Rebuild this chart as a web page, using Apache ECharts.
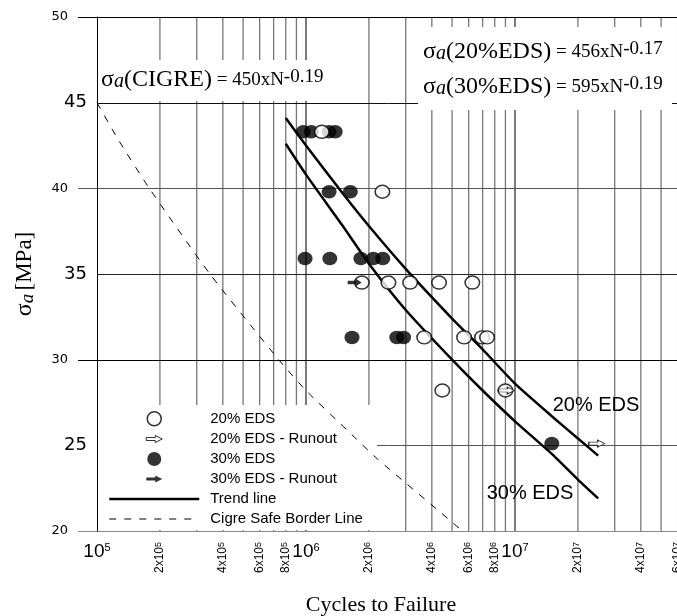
<!DOCTYPE html>
<html><head><meta charset="utf-8">
<script src="https://cdn.jsdelivr.net/npm/echarts@6/dist/echarts.min.js"></script>
<style>html,body{margin:0;padding:0;background:#fff}#c{width:677px;height:616px}</style>
</head><body><div id="c"></div>
<script>
// ---------- data (N cycles, stress amplitude MPa) ----------
const eds20 = [[1.19e6,43.3],[2.32e6,39.8],[1.85e6,34.5],[2.48e6,34.5],[3.15e6,34.5],[4.33e6,34.5],[6.25e6,34.5],
  [3.68e6,31.3],[5.71e6,31.3],[6.95e6,31.3],[7.35e6,31.3],[4.49e6,28.2],[9.0e6,28.2]];
const eds20Runout = [[9.1e6,28.2],[2.46e7,25.1]];
const eds30 = [[9.7e5,43.3],[1.06e6,43.3],[1.29e6,43.3],[1.38e6,43.3],[1.29e6,39.8],[1.63e6,39.8],
  [9.9e5,35.9],[1.30e6,35.9],[1.83e6,35.9],[2.10e6,35.9],[2.33e6,35.9],[1.66e6,31.3],[2.72e6,31.3],[2.93e6,31.3],[1.5e7,25.1]];
const eds30Runout = [[1.71e6,34.5]];
const trend20 = [[8.0e5,44.1],[1.0e6,42.5],[1.5e6,39.7],[2.0e6,37.8],[3.0e6,35.3],[5.0e6,32.4],[7.0e6,30.6],
  [1.0e7,28.6],[1.5e7,26.7],[2.0e7,25.4],[2.5e7,24.4]];
const trend30 = [[8.0e5,42.6],[1.0e6,40.8],[1.5e6,37.8],[2.0e6,35.6],[3.0e6,32.9],[5.0e6,30.0],[7.0e6,28.2],
  [1.0e7,26.4],[1.5e7,24.5],[2.0e7,23.0],[2.5e7,21.9]];
const cigre = [[1e5,45.0],[1.27e5,42.8],[1.78e5,40.0],[3.47e5,35.0],[7.4e5,30.0],[1.0e6,28.2],[1.6e6,25.8],[2.2e6,24.2],[4.8e6,20.7],[5.6e6,20.0]];
// ---------- axes / ticks ----------
const yTicks = [20,25,30,35,40,45,50];
const minorLabelValues = [2e5,4e5,6e5,8e5,2e6,4e6,6e6,8e6,2e7,4e7,6e7];
const vGridValues = [2e5,3e5,4e5,5e5,6e5,7e5,8e5,9e5,1e6,2e6,3e6,4e6,5e6,6e6,7e6,8e6,9e6,1e7,2e7,3e7,4e7,5e7,6e7,7e7,8e7,9e7];
const legendNames = ['20% EDS','20% EDS - Runout','30% EDS','30% EDS - Runout','Trend line','Cigre Safe Border Line'];

const SANS = "'Liberation Sans', Arial, Helvetica, sans-serif";
const SERIF = "'Liberation Serif', 'Times New Roman', serif";
const ARROW = 'path://M0,2 L9,2 L9,0 L16,3.5 L9,7 L9,5 L0,5 Z';
const ARROW_LEG = 'path://M0,0 M32,14 M8,5.5 L17,5.5 L17,3.5 L24,7 L17,10.5 L17,8.5 L8,8.5 Z';
const hLineColor = {20:'#888',25:'#555',30:'#000',35:'#222',40:'#555',45:'#111',50:'#000'};
const NOFILL = 'rgba(0,0,0,0)';

const chart = echarts.init(document.getElementById('c'), null, {renderer:'canvas'});

const eqRich = {
  g:{fontFamily:SERIF, fontSize:24, fill:'#000'},
  i:{fontFamily:SERIF, fontSize:20, fontStyle:'italic', fill:'#000', verticalAlign:'bottom'},
  m:{fontFamily:SERIF, fontSize:24, fill:'#000'},
  e:{fontFamily:SERIF, fontSize:19, fill:'#000'},
  p:{fontFamily:SERIF, fontSize:19, fill:'#000', verticalAlign:'top'}
};

const option = {
  animation:false,
  backgroundColor:'#fff',
  grid:{left:97, top:17, width:627, height:514, containLabel:false, outerBoundsMode:'none'},
  xAxis:{type:'log', logBase:10, min:1e5, max:1e8,
    axisLine:{show:false}, axisTick:{show:false}, splitLine:{show:false},
    axisLabel:{margin:11, fontFamily:SANS, fontSize:19, color:'#000',
      formatter: v => '10{p|' + Math.round(Math.log10(v)) + '}',
      rich:{p:{fontFamily:SANS, fontSize:11, color:'#000', verticalAlign:'top'}}}
  },
  yAxis:{type:'value', min:20, max:50, interval:5,
    axisLine:{show:true, lineStyle:{color:'#000', width:1}},
    axisTick:{show:false}, splitLine:{show:false},
    axisLabel:{margin:10,
      formatter: v => (v % 10 === 0 ? '{s|' : '{b|') + v + '}',
      rich:{s:{fontFamily:'DejaVu Sans', fontSize:13, color:'#000', padding:[0,19,0,0]},
            b:{fontFamily:'DejaVu Sans', fontSize:18, color:'#000'}}},
    name:'{g|σ}{i|a} {m|[MPa]}', nameLocation:'middle', nameGap:60,
    nameTextStyle:{rich:{
      g:{fontFamily:SERIF, fontSize:24, color:'#000'},
      i:{fontFamily:SERIF, fontSize:19, fontStyle:'italic', color:'#000', verticalAlign:'bottom'},
      m:{fontFamily:SERIF, fontSize:23, color:'#000'}}}
  },
  legend:{orient:'vertical', left:108, top:411, padding:0, itemWidth:90, itemHeight:14, itemGap:5,
    selectedMode:false,
    itemStyle:{borderWidth:'inherit'}, lineStyle:{width:'inherit'},
    textStyle:{fontFamily:SANS, fontSize:15, color:'#000', padding:[0,0,0,6]},
    data:[{name:legendNames[0], icon:'circle'},{name:legendNames[1], icon:ARROW_LEG},
          {name:legendNames[2], icon:'circle'},{name:legendNames[3], icon:ARROW_LEG},
          {name:legendNames[4]},{name:legendNames[5]}]
  },
  graphic:[
    {type:'rect', z:1, silent:true, shape:{x:98, y:60, width:242, height:41}, style:{fill:'#fff'}},
    {type:'rect', z:1, silent:true, shape:{x:418, y:27, width:254, height:83}, style:{fill:'#fff'}},
    {type:'rect', z:1, silent:true, shape:{x:98, y:405, width:279, height:125}, style:{fill:'#fff'}},
    {type:'text', z:5, x:101, y:80, style:{text:'{g|σ}{i|a}{m|(CIGRE)}{e| = 450xN}{p|-0.19}', rich:eqRich, verticalAlign:'middle', align:'left'}},
    {type:'text', z:5, x:423, y:52, style:{text:'{g|σ}{i|a}{m|(20%EDS)}{e| = 456xN}{p|-0.17}', rich:eqRich, verticalAlign:'middle', align:'left'}},
    {type:'text', z:5, x:423, y:87, style:{text:'{g|σ}{i|a}{m|(30%EDS)}{e| = 595xN}{p|-0.19}', rich:eqRich, verticalAlign:'middle', align:'left'}},
    {type:'text', z:5, x:596, y:405, style:{text:'20% EDS', font:'20px ' + SANS, fill:'#000', align:'center', verticalAlign:'middle'}},
    {type:'text', z:5, x:530, y:493, style:{text:'30% EDS', font:'20px ' + SANS, fill:'#000', align:'center', verticalAlign:'middle'}},
    {type:'text', z:5, x:381, y:605, style:{text:'Cycles to Failure', font:'22px ' + SERIF, fill:'#000', align:'center', verticalAlign:'middle'}}
  ],
  series:[
    {type:'custom', name:'vgrid', z:0, silent:true, data:vGridValues.map(v => [v, 20]),
      renderItem:(params, api) => {
        const v = api.value(0);
        const a = api.coord([v, 20]), b = api.coord([v, 50]);
        const dec = Math.abs(Math.log10(v) - Math.round(Math.log10(v))) < 1e-9;
        return {type:'line', shape:{x1:a[0], y1:a[1], x2:b[0], y2:b[1]},
          style:{stroke: dec ? '#333' : '#777', lineWidth:1.3}};
      }},
    {type:'custom', name:'hgrid', z:0, silent:true, data:yTicks.map(t => [1e5, t]),
      renderItem:(params, api) => {
        const t = api.value(1);
        const a = api.coord([1e5, t]), b = api.coord([1e8, t]);
        const ext = (t % 10 === 0) ? 19 : 0;
        return {type:'line', shape:{x1:a[0] - ext, y1:Math.round(a[1]) + 0.5, x2:b[0], y2:Math.round(b[1]) + 0.5},
          style:{stroke: hLineColor[t] || '#000', lineWidth:1}};
      }},
    {type:'custom', name:'minorLabels', z:3, silent:true, data:minorLabelValues.map(v => [v, 20]),
      renderItem:(params, api) => {
        const v = api.value(0);
        const p = api.coord([v, 20]);
        const e = Math.floor(Math.log10(v) + 1e-9);
        const m = Math.round(v / Math.pow(10, e));
        return {type:'text', x:p[0], y:p[1] + 11, rotation:Math.PI / 2,
          style:{text: m + 'x10{p|' + e + '}', fontSize:12, fontFamily:SANS, fill:'#000',
            align:'right', verticalAlign:'middle',
            rich:{p:{fontSize:9, fontFamily:SANS, fill:'#000', verticalAlign:'top'}}}};
      }},
    {type:'line', name:'Cigre Safe Border Line', data:cigre, symbol:'none', z:2, smooth:0.2,
      itemStyle:{color:NOFILL}, lineStyle:{color:'#000', width:1, type:[7,8]}},
    {type:'line', name:'Trend line', data:trend20, symbol:'none', smooth:0.2, z:2,
      itemStyle:{color:NOFILL}, lineStyle:{color:'#000', width:2.5}},
    {type:'line', name:'Trend line', data:trend30, symbol:'none', smooth:0.2, z:2,
      itemStyle:{color:NOFILL}, lineStyle:{color:'#000', width:2.5}},
    {type:'scatter', name:'30% EDS', data:eds30, symbol:'circle', symbolSize:[15,13.5], z:3,
      itemStyle:{color:'#000', borderWidth:0}},
    {type:'scatter', name:'20% EDS', data:eds20, symbol:'circle', symbolSize:[14.5,13], z:4,
      itemStyle:{color:'#fff', borderColor:'#000', borderWidth:1.5}},
    {type:'scatter', name:'20% EDS - Runout', data:eds20Runout, symbol:ARROW, symbolSize:[16,7], z:5,
      itemStyle:{color:'#fff', borderColor:'#000', borderWidth:1}},
    {type:'scatter', name:'30% EDS - Runout', data:eds30Runout, symbol:ARROW, symbolSize:[14,8], z:5,
      itemStyle:{color:'#000', borderWidth:0}}
  ]
};
chart.setOption(option);
</script>
</body></html>
